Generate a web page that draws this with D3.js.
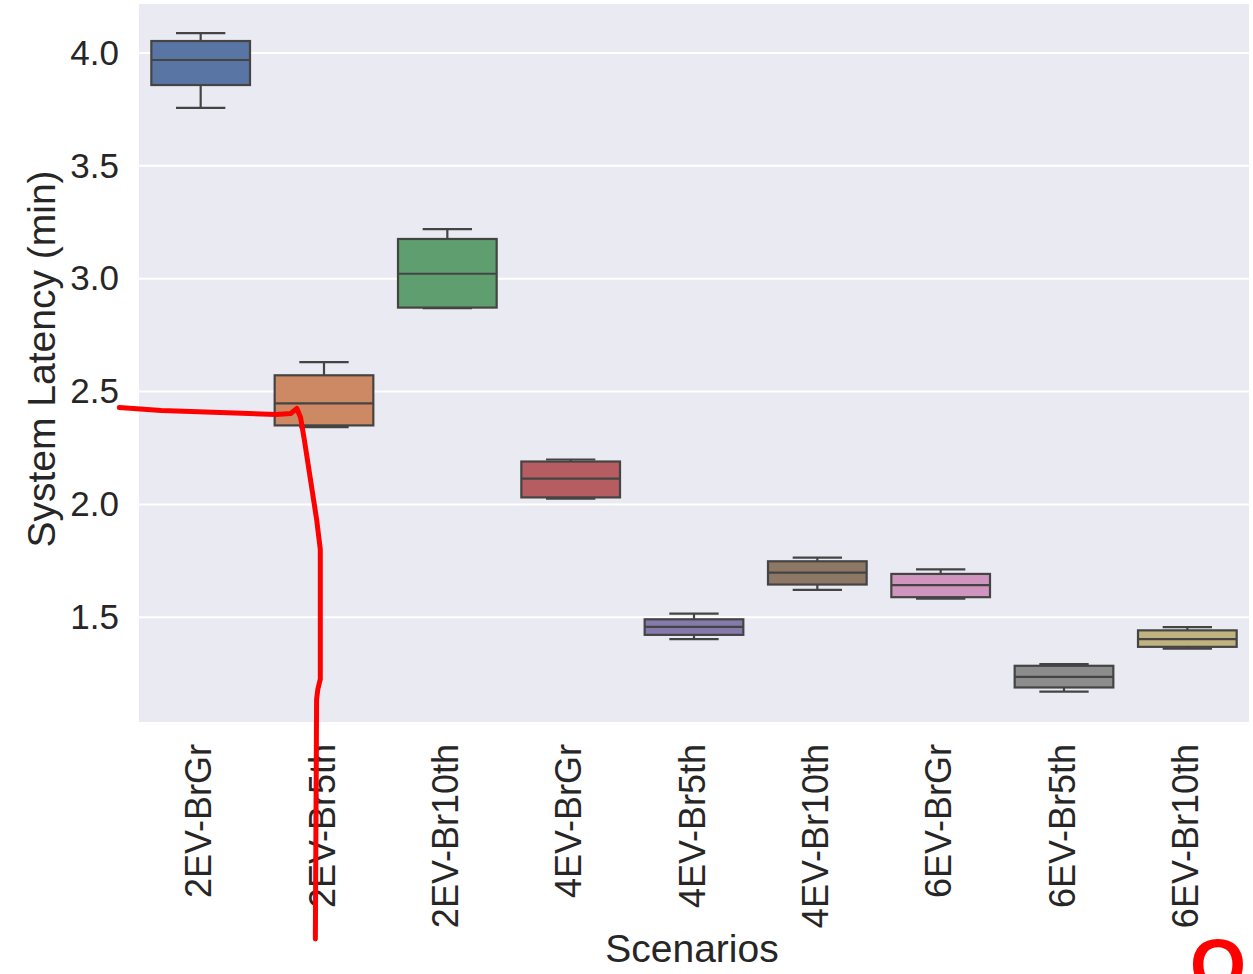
<!DOCTYPE html>
<meta charset="utf-8">
<style>
body { margin: 0; background: #fff; font-family: "Liberation Sans", Arial, sans-serif; }
.tick text { fill: #262626; }
.grid line { stroke: #fff; stroke-width: 2px; }
.box rect { stroke: #444; stroke-width: 2.2px; }
.box line { stroke: #444; stroke-width: 2.2px; }
.label { font-size: 39px; fill: #262626; }
</style>
<body>
<script src="https://cdn.jsdelivr.net/npm/d3@7"></script>
<script>
var scenarios = ["2EV-BrGr", "2EV-Br5th", "2EV-Br10th", "4EV-BrGr", "4EV-Br5th",
                 "4EV-Br10th", "6EV-BrGr", "6EV-Br5th", "6EV-Br10th"];
// box stats (min)
var whiskerLow  = [3.757, 2.342, 2.870, 2.025, 1.403, 1.621, 1.583, 1.171, 1.361];
var q1          = [3.858, 2.350, 2.872, 2.031, 1.422, 1.645, 1.589, 1.189, 1.369];
var median      = [3.969, 2.448, 3.022, 2.114, 1.457, 1.698, 1.642, 1.236, 1.403];
var q3          = [4.053, 2.572, 3.176, 2.190, 1.491, 1.748, 1.692, 1.285, 1.442];
var whiskerHigh = [4.088, 2.630, 3.220, 2.199, 1.516, 1.764, 1.712, 1.292, 1.456];
var colors = ["#5975a4", "#cc8963", "#5f9e6e", "#b55d60", "#857aab",
              "#8d7866", "#d095bf", "#8c8c8c", "#c1b37f"];
var yTicks = [1.5, 2.0, 2.5, 3.0, 3.5, 4.0];

// hand-drawn red mark: [category index offset, latency value]
var markIdx = [-0.66, -0.32, 0.16, 0.61, 0.73, 0.78, 0.81, 0.84, 0.89, 0.94, 0.97, 0.97, 0.95, 0.94, 0.93];
var markVal = [2.429, 2.416, 2.407, 2.398, 2.403, 2.425, 2.385, 2.288, 2.111, 1.934, 1.801, 1.226, 1.181, 1.137, 0.075];

var W = 1253, H = 974;
var margin = { top: 4, right: 4, bottom: 252, left: 139 };
var width = W - margin.left - margin.right;
var height = H - margin.top - margin.bottom;

var svg = d3.select("body").append("svg")
    .attr("width", W)
    .attr("height", H);

var g = svg.append("g")
    .attr("transform", "translate(" + margin.left + "," + margin.top + ")");

var x = d3.scaleBand()
  .domain(scenarios)
  .range([0, width])
  .paddingInner(0.2)
  .paddingOuter(0.1);

var y = d3.scaleLinear()
  .domain([1.036, 4.217])
  .range([height, 0]);

g.append("rect")
  .attr("width", width)
  .attr("height", height)
  .attr("fill", "#eaeaf2");

g.append("g")
  .attr("class", "grid")
  .selectAll("line")
  .data(yTicks)
  .enter().append("line")
    .attr("x1", 0)
    .attr("x2", width)
    .attr("y1", function(d) { return y(d); })
    .attr("y2", function(d) { return y(d); });

var yAxis = d3.axisLeft(y)
  .tickValues(yTicks)
  .tickFormat(d3.format(".1f"))
  .tickSize(0)
  .tickPadding(20);

g.append("g")
  .call(yAxis)
  .call(function(a) { a.select(".domain").remove(); })
  .selectAll("text")
    .style("font-size", "35px")
    .style("font-family", "Liberation Sans, Arial, sans-serif");

var xAxis = d3.axisBottom(x)
  .tickSize(0)
  .tickPadding(0);

g.append("g")
  .attr("transform", "translate(0," + height + ")")
  .call(xAxis)
  .call(function(a) { a.select(".domain").remove(); })
  .selectAll("text")
    .style("font-size", "36px")
    .style("font-family", "Liberation Sans, Arial, sans-serif")
    .attr("text-anchor", "end")
    .attr("dy", "0.35em")
    .attr("transform", "translate(-2,22) rotate(-90)");

var bw = x.bandwidth();

var box = g.selectAll("g.box")
  .data(scenarios)
  .enter().append("g")
    .attr("class", "box")
    .attr("transform", function(d) { return "translate(" + x(d) + ",0)"; });

// whiskers
box.append("line")
  .attr("x1", bw / 2).attr("x2", bw / 2)
  .attr("y1", function(d, i) { return y(whiskerHigh[i]); })
  .attr("y2", function(d, i) { return y(q3[i]); });
box.append("line")
  .attr("x1", bw / 2).attr("x2", bw / 2)
  .attr("y1", function(d, i) { return y(q1[i]); })
  .attr("y2", function(d, i) { return y(whiskerLow[i]); });
box.append("line")
  .attr("x1", bw / 4).attr("x2", bw * 3 / 4)
  .attr("y1", function(d, i) { return y(whiskerHigh[i]); })
  .attr("y2", function(d, i) { return y(whiskerHigh[i]); });
box.append("line")
  .attr("x1", bw / 4).attr("x2", bw * 3 / 4)
  .attr("y1", function(d, i) { return y(whiskerLow[i]); })
  .attr("y2", function(d, i) { return y(whiskerLow[i]); });

box.append("rect")
  .attr("x", 0)
  .attr("width", bw)
  .attr("y", function(d, i) { return y(q3[i]); })
  .attr("height", function(d, i) { return y(q1[i]) - y(q3[i]); })
  .attr("fill", function(d, i) { return colors[i]; });

box.append("line")
  .attr("x1", 0).attr("x2", bw)
  .attr("y1", function(d, i) { return y(median[i]); })
  .attr("y2", function(d, i) { return y(median[i]); });

// axis titles
g.append("text")
  .attr("class", "label")
  .attr("text-anchor", "middle")
  .attr("transform", "translate(" + (-84) + "," + (height / 2 - 4) + ") rotate(-90)")
  .text("System Latency (min)");

g.append("text")
  .attr("class", "label")
  .attr("text-anchor", "middle")
  .attr("x", width / 2 - 2)
  .attr("y", height + 240)
  .text("Scenarios");

// red hand annotation
var xi = d3.scaleLinear()
  .domain([0, 1])
  .range([x(scenarios[0]) + bw / 2, x(scenarios[1]) + bw / 2]);

var line = d3.line()
  .x(function(d) { return xi(d[0]); })
  .y(function(d) { return y(d[1]); })
  .curve(d3.curveLinear);

svg.append("path")
  .attr("transform", "translate(" + margin.left + "," + margin.top + ")")
  .datum(d3.zip(markIdx, markVal))
  .attr("d", line)
  .attr("fill", "none")
  .attr("stroke", "#ff0000")
  .attr("stroke-width", 5)
  .attr("stroke-linejoin", "round")
  .attr("stroke-linecap", "round");

svg.append("text")
  .attr("x", W - 7)
  .attr("y", H + 16)
  .attr("text-anchor", "end")
  .style("font-size", "72px")
  .style("font-weight", "bold")
  .style("fill", "#ff0000")
  .text("Q");
</script>
</body>
